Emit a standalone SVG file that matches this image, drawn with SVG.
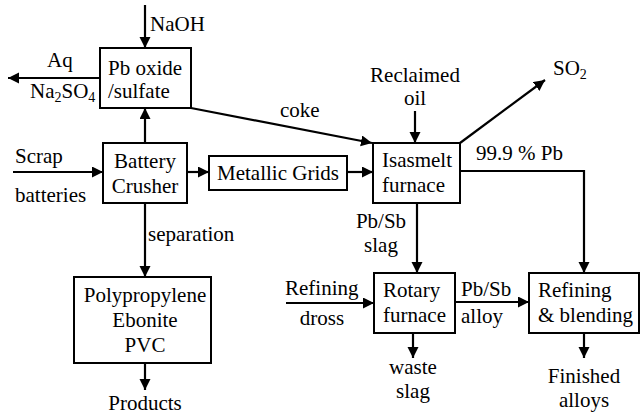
<svg xmlns="http://www.w3.org/2000/svg" width="641" height="414" viewBox="0 0 641 414" font-family="Liberation Serif, Times New Roman, serif" font-size="21">
<defs>
<marker id="ah" markerUnits="userSpaceOnUse" markerWidth="12" markerHeight="12" refX="11" refY="5.5" orient="auto">
<path d="M0,0 L11,5.5 L0,11 z" fill="#000"/>
</marker>
<style>
text{font-family:"Liberation Serif","Times New Roman",serif;font-size:21px;fill:#000}
.box{fill:#fff;stroke:#000;stroke-width:2}
.c{fill:none;stroke:#000;stroke-width:2.2}
.a{marker-end:url(#ah)}
.m{text-anchor:middle}
.sub{font-size:14px}
</style>
</defs>
<rect width="641" height="414" fill="#fff"/>
<g id="connectors">
<line class="c a" x1="145" y1="5" x2="145" y2="48"/>
<line class="c a" x1="100" y1="78" x2="8" y2="78"/>
<line class="c a" x1="145" y1="143" x2="145" y2="108"/>
<line class="c a" x1="191" y1="108" x2="372" y2="143"/>
<line class="c a" x1="415" y1="111" x2="415" y2="143"/>
<line class="c a" x1="460" y1="143" x2="545" y2="80"/>
<line class="c a" x1="13" y1="172" x2="103" y2="172"/>
<line class="c a" x1="187" y1="172" x2="209" y2="172"/>
<line class="c a" x1="347" y1="172" x2="373" y2="172"/>
<line class="c a" x1="145" y1="203" x2="145" y2="277"/>
<line class="c a" x1="145" y1="363" x2="145" y2="390"/>
<line class="c a" x1="417" y1="203" x2="417" y2="273"/>
<polyline class="c a" points="460,171 584,171 584,273"/>
<line class="c a" x1="286" y1="303" x2="374" y2="303"/>
<line class="c a" x1="413" y1="333" x2="413" y2="358"/>
<line class="c a" x1="455" y1="302" x2="529" y2="302"/>
<line class="c a" x1="584" y1="333" x2="584" y2="358"/>
</g>
<g id="pboxide">
<rect class="box" x="100" y="48" width="91" height="60"/>
<text font-family="Liberation Serif" x="108" y="75">Pb oxide</text>
<text font-family="Liberation Serif" x="108" y="98">/sulfate</text>
</g>
<g id="crusher">
<rect class="box" x="103" y="143" width="84" height="60"/>
<text font-family="Liberation Serif" x="145" y="168" class="m">Battery</text>
<text font-family="Liberation Serif" x="145" y="193" class="m">Crusher</text>
</g>
<g id="grids">
<rect class="box" x="209" y="156" width="138" height="34"/>
<text font-family="Liberation Serif" x="278" y="180" class="m">Metallic Grids</text>
</g>
<g id="isasmelt">
<rect class="box" x="373" y="143" width="87" height="60"/>
<text font-family="Liberation Serif" x="382" y="167">Isasmelt</text>
<text font-family="Liberation Serif" x="382" y="192">furnace</text>
</g>
<g id="plastics">
<rect class="box" x="74" y="277" width="137" height="86"/>
<text font-family="Liberation Serif" x="145" y="302" class="m">Polypropylene</text>
<text font-family="Liberation Serif" x="145" y="327" class="m">Ebonite</text>
<text font-family="Liberation Serif" x="145" y="352" class="m">PVC</text>
</g>
<g id="rotary">
<rect class="box" x="374" y="273" width="81" height="60"/>
<text font-family="Liberation Serif" x="383" y="297">Rotary</text>
<text font-family="Liberation Serif" x="383" y="322">furnace</text>
</g>
<g id="refining">
<rect class="box" x="529" y="273" width="110" height="60"/>
<text font-family="Liberation Serif" x="538" y="297">Refining</text>
<text font-family="Liberation Serif" x="538" y="322">&amp; blending</text>
</g>
<g id="labels">
<text font-family="Liberation Serif" x="150" y="31">NaOH</text>
<text font-family="Liberation Serif" x="47" y="67">Aq</text>
<text font-family="Liberation Serif" x="30" y="98">Na<tspan class="sub" dy="4">2</tspan><tspan dy="-4">SO</tspan><tspan class="sub" dy="4">4</tspan></text>
<text font-family="Liberation Serif" x="280" y="117">coke</text>
<text font-family="Liberation Serif" x="415" y="82" class="m">Reclaimed</text>
<text font-family="Liberation Serif" x="415" y="105" class="m">oil</text>
<text font-family="Liberation Serif" x="553" y="75">SO<tspan class="sub" dy="4">2</tspan></text>
<text font-family="Liberation Serif" x="15" y="163">Scrap</text>
<text font-family="Liberation Serif" x="15" y="202">batteries</text>
<text font-family="Liberation Serif" x="476" y="160">99.9 % Pb</text>
<text font-family="Liberation Serif" x="148" y="241">separation</text>
<text font-family="Liberation Serif" x="381" y="228" class="m">Pb/Sb</text>
<text font-family="Liberation Serif" x="381" y="252" class="m">slag</text>
<text font-family="Liberation Serif" x="285" y="295">Refining</text>
<text font-family="Liberation Serif" x="322" y="325" class="m">dross</text>
<text font-family="Liberation Serif" x="413" y="374" class="m">waste</text>
<text font-family="Liberation Serif" x="413" y="398" class="m">slag</text>
<text font-family="Liberation Serif" x="461" y="296">Pb/Sb</text>
<text font-family="Liberation Serif" x="461" y="323">alloy</text>
<text font-family="Liberation Serif" x="145" y="410" class="m">Products</text>
<text font-family="Liberation Serif" x="584" y="383" class="m">Finished</text>
<text font-family="Liberation Serif" x="584" y="407" class="m">alloys</text>
</g>
</svg>
